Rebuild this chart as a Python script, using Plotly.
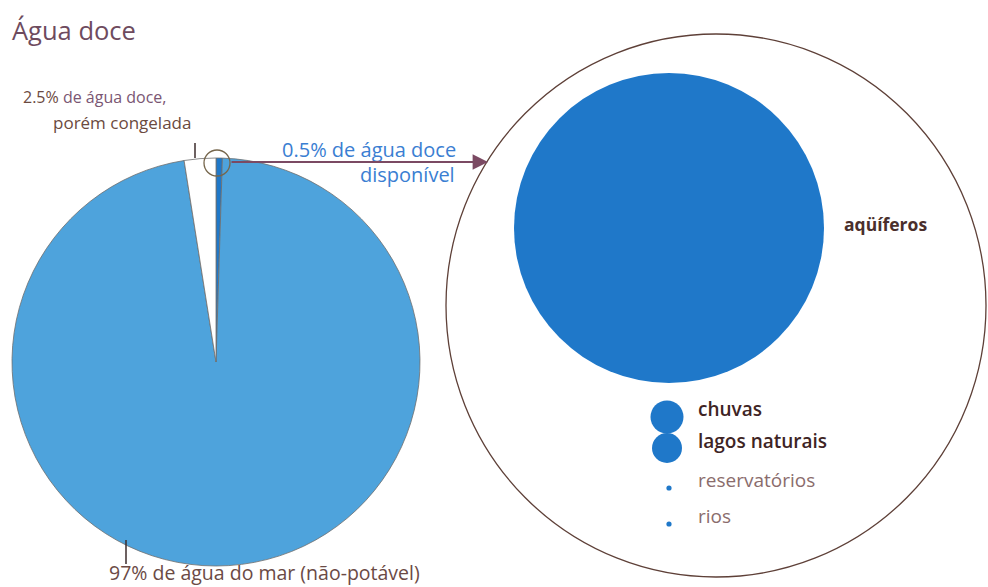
import plotly.graph_objects as go

# ---------------- data ----------------
pie_labels = ["água doce disponível", "água do mar (não-potável)", "água doce congelada"]
pie_values = [0.5, 97, 2.5]
pie_colors = ["#1f78c9", "#4ea3dc", "#ffffff"]

sources = ["aqüíferos", "chuvas", "lagos naturais", "reservatórios", "rios"]
source_radius = [155, 16.5, 15, 2.6, 2.6]   # relative bubble sizes (px radius as drawn)

# ---------------- layout constants (pixel space) ----------------
W, H = 988, 587
FONT = "Open Sans"
pie_cx, pie_cy, pie_r = 216, 362, 204

fig = go.Figure()

fig.add_trace(go.Pie(
    labels=pie_labels, values=pie_values, sort=False, direction="clockwise",
    rotation=0, textinfo="none", hoverinfo="label+percent",
    marker=dict(colors=pie_colors, line=dict(color="#6e6e6e", width=0.8)),
    domain=dict(x=[(pie_cx - pie_r) / W, (pie_cx + pie_r) / W],
                y=[1 - (pie_cy + pie_r) / H, 1 - (pie_cy - pie_r) / H]),
    showlegend=False,
))

# bubbles for sources of available fresh water
bx = [669, 667, 667, 669, 669]
by = [228, 417, 448, 488, 524]
fig.add_trace(go.Scatter(
    x=bx, y=by, mode="markers", hovertext=sources, hoverinfo="text",
    marker=dict(size=[2 * r for r in source_radius], color="#1f78c9",
                opacity=1, line=dict(width=0)),
    showlegend=False,
))

shapes = [
    # outer circle
    dict(type="circle", xref="x", yref="y", x0=446, x1=986, y0=34, y1=577,
         line=dict(color="#5e4038", width=1.3)),
    # small highlight circle on pie
    dict(type="circle", xref="x", yref="y", x0=204, x1=230, y0=150, y1=176,
         line=dict(color="#76664c", width=1.3)),
    # ticks
    dict(type="line", xref="x", yref="y", x0=195, x1=195, y0=143, y1=158,
         line=dict(color="#3c2c2c", width=1.5)),
    dict(type="line", xref="x", yref="y", x0=126, x1=126, y0=540, y1=564,
         line=dict(color="#3c2c2c", width=1.5)),
]

mauve = "#7a5673"
blue_txt = "#3a7ed2"
dark = "#3e2424"
ann = [
    dict(x=10, y=30, text="Água doce", xanchor="left", yanchor="middle",
         font=dict(size=25.5, color="#6e4b5e")),
    dict(x=21, y=97, text="<span style='color:#6b4a40'>2.5%</span> de água doce,",
         xanchor="left", yanchor="middle", font=dict(size=16, color=mauve)),
    dict(x=193, y=122, text="porém congelada", xanchor="right", yanchor="middle",
         font=dict(size=17, color="#6b4a40")),
    dict(x=458, y=149, text="0.5% de água doce", xanchor="right", yanchor="middle",
         font=dict(size=20, color=blue_txt)),
    dict(x=457, y=174, text="disponível", xanchor="right", yanchor="middle",
         font=dict(size=20, color=blue_txt)),
    dict(x=108, y=587, text="97% de água do mar (não-potável)", xanchor="left",
         yanchor="bottom" if False else "bottom", font=dict(size=19.5, color="#6b4a45")),
    dict(x=842, y=224, text="<b>" + sources[0] + "</b>", xanchor="left", yanchor="middle",
         font=dict(size=17.5, color="#4a2f2c")),
    dict(x=696, y=409, text=sources[1], xanchor="left", yanchor="middle",
         font=dict(size=19, color=dark, weight=600)),
    dict(x=696, y=441, text=sources[2], xanchor="left", yanchor="middle",
         font=dict(size=19, color=dark, weight=600)),
    dict(x=696, y=480, text=sources[3], xanchor="left", yanchor="middle",
         font=dict(size=19, color="#8a6c6c")),
    dict(x=696, y=516, text=sources[4], xanchor="left", yanchor="middle",
         font=dict(size=19, color="#8a6c6c")),
    # arrow
    dict(x=488, y=162, ax=230, ay=162, xref="x", yref="y", axref="x", ayref="y",
         text="", showarrow=True, arrowhead=2, arrowsize=1.4, arrowwidth=2.2,
         arrowcolor="#7b4a63", standoff=0, startstandoff=0),
]
for a in ann:
    a.setdefault("xref", "x")
    a.setdefault("yref", "y")
    a.setdefault("showarrow", False)

# bottom label: anchor its box to the bottom edge so it stays inside the page
ann[5]["yref"] = "paper"
ann[5]["y"] = 0
ann[5]["yanchor"] = "bottom"
ann[5]["borderpad"] = 0

fig.update_layout(
    width=W, height=H, margin=dict(l=0, r=0, t=0, b=0),
    paper_bgcolor="white", plot_bgcolor="rgba(0,0,0,0)",
    font=dict(family=FONT),
    xaxis=dict(range=[0, W], visible=False, fixedrange=True),
    yaxis=dict(range=[H, 0], visible=False, fixedrange=True),
    shapes=shapes, annotations=ann, showlegend=False,
)

fig.write_html("out.html")
